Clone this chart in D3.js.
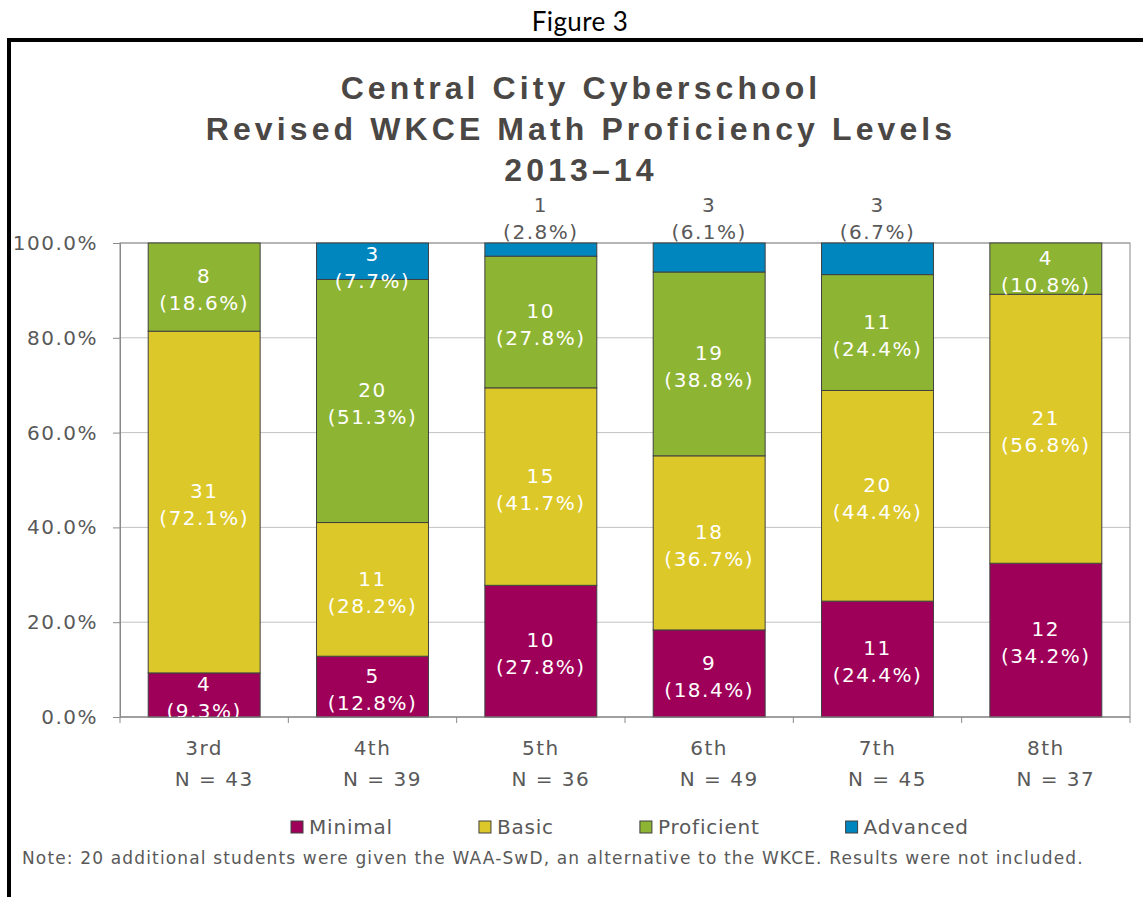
<!DOCTYPE html>
<html>
<head>
<meta charset="utf-8">
<script src="https://cdn.jsdelivr.net/npm/d3@7"></script>
<style>
  body { margin: 0; background: #fff; }
  text { font-family: "DejaVu Sans", sans-serif; }
</style>
</head>
<body>
<div id="chart"></div>
<script>
// Data
const grades = ["3rd", "4th", "5th", "6th", "7th", "8th"];
const nStudents = [43, 39, 36, 49, 45, 37];
const levels = ["Minimal", "Basic", "Proficient", "Advanced"];
const colors = ["#9e0059", "#dcc828", "#8db432", "#0086bf"];

const minimalN = [4, 5, 10, 9, 11, 12];
const basicN = [31, 11, 15, 18, 20, 21];
const proficientN = [8, 20, 10, 19, 11, 4];
const advancedN = [0, 3, 1, 3, 3, 0];

// percentages as printed on the labels
const minimalPct = [9.3, 12.8, 27.8, 18.4, 24.4, 34.2];
const basicPct = [72.1, 28.2, 41.7, 36.7, 44.4, 56.8];
const proficientPct = [18.6, 51.3, 27.8, 38.8, 24.4, 10.8];
const advancedPct = [0, 7.7, 2.8, 6.1, 6.7, 0];

const yTicks = [0, 20, 40, 60, 80, 100];
const titleLines = ["Central City Cyberschool", "Revised WKCE Math Proficiency Levels", "2013\u201314"];
const noteText = "Note: 20 additional students were given the WAA-SwD, an alternative to the WKCE. Results were not included.";

const W = 1143, H = 897;
const plot = { left: 120, right: 1130, top: 243, bottom: 717 };
const textGray = "#595959";

const svg = d3.select("#chart").append("svg")
    .attr("width", W)
    .attr("height", H);

svg.append("rect").attr("width", W).attr("height", H).attr("fill", "#fff");

// outer frame (top and left rules)
svg.append("rect").attr("x", 7).attr("y", 38).attr("width", W - 7).attr("height", 4).attr("fill", "#000");
svg.append("rect").attr("x", 7).attr("y", 38).attr("width", 4).attr("height", H - 38).attr("fill", "#000");

svg.append("text")
    .attr("x", 580).attr("y", 31)
    .attr("text-anchor", "middle")
    .style("font-family", "Lato, 'Open Sans', sans-serif")
    .style("font-size", "26px")
    .style("letter-spacing", "0.4px")
    .attr("fill", "#000")
    .text("Figure 3");

// chart title
svg.append("g").selectAll("text")
    .data(titleLines)
    .enter().append("text")
    .attr("x", 581)
    .attr("y", (d, i) => 99 + i * 41)
    .attr("text-anchor", "middle")
    .style("font-family", "'Liberation Sans', Arial, sans-serif")
    .style("font-weight", "bold")
    .style("font-size", "32px")
    .style("letter-spacing", "4.1px")
    .attr("fill", "#4a4745")
    .text(d => d);

// scales
const x = d3.scaleBand()
    .domain(grades)
    .range([plot.left, plot.right])
    .paddingInner(0.335)
    .paddingOuter(0.1675);

const y = d3.scaleLinear()
    .domain([0, 100])
    .range([plot.bottom, plot.top]);

// gridlines
svg.append("g").selectAll("line")
    .data(yTicks)
    .enter().append("line")
    .attr("x1", plot.left).attr("x2", plot.right)
    .attr("y1", d => y(d)).attr("y2", d => y(d))
    .attr("stroke", "#c3c3c3")
    .attr("stroke-width", 1);

// plot border
svg.append("rect")
    .attr("x", plot.left).attr("y", plot.top)
    .attr("width", plot.right - plot.left).attr("height", plot.bottom - plot.top)
    .attr("fill", "none")
    .attr("stroke", "#8a8a8a")
    .attr("stroke-width", 1);

// y axis
const yAxis = svg.append("g")
    .attr("transform", `translate(${plot.left},0)`)
    .call(d3.axisLeft(y).tickValues(yTicks).tickFormat(d => d.toFixed(1) + "%").tickSize(7).tickPadding(15));
yAxis.select(".domain").attr("stroke", "#8a8a8a");
yAxis.selectAll(".tick line").attr("stroke", "#8a8a8a");
yAxis.selectAll(".tick text")
    .attr("fill", textGray)
    .style("font-size", "20px")
    .style("letter-spacing", "1.5px")
    .style("font-family", "'DejaVu Sans', sans-serif");

// stacked data
const counts = [minimalN, basicN, proficientN, advancedN];
const pcts = [minimalPct, basicPct, proficientPct, advancedPct];
const rows = grades.map((g, i) => {
    const r = { grade: g };
    levels.forEach((l, k) => { r[l] = counts[k][i] / nStudents[i] * 100; });
    return r;
});
const series = d3.stack().keys(levels)(rows);

svg.append("clipPath").attr("id", "plotclip")
    .append("rect")
    .attr("x", plot.left).attr("y", plot.top)
    .attr("width", plot.right - plot.left).attr("height", plot.bottom - plot.top);

const barG = svg.append("g");
series.forEach((s, k) => {
    barG.selectAll(".seg" + k)
        .data(s.filter(d => d[1] - d[0] > 0))
        .enter().append("rect")
        .attr("x", d => x(d.data.grade))
        .attr("width", x.bandwidth())
        .attr("y", d => y(d[1]))
        .attr("height", d => y(d[0]) - y(d[1]))
        .attr("fill", colors[k])
        .attr("stroke", "#404040")
        .attr("stroke-width", 1);
});

// bottom axis line and ticks at band edges
svg.append("line")
    .attr("x1", plot.left).attr("x2", plot.right)
    .attr("y1", plot.bottom).attr("y2", plot.bottom)
    .attr("stroke", "#8a8a8a");
const step = x.step();
svg.append("g").selectAll("line")
    .data(d3.range(grades.length + 1))
    .enter().append("line")
    .attr("x1", i => plot.left + i * step).attr("x2", i => plot.left + i * step)
    .attr("y1", plot.bottom).attr("y2", plot.bottom + 6)
    .attr("stroke", "#8a8a8a");

// category labels
const catG = svg.append("g")
    .style("font-size", "20px")
    .style("letter-spacing", "1.5px")
    .attr("fill", textGray)
    .attr("text-anchor", "middle");
grades.forEach((g, i) => {
    const cx = x(g) + x.bandwidth() / 2;
    catG.append("text").attr("x", cx).attr("y", 755).text(g);
    catG.append("text").attr("x", cx + 10).attr("y", 786).text("N = " + nStudents[i]);
});

// data labels
const inG = svg.append("g").attr("clip-path", "url(#plotclip)");
const outG = svg.append("g");
series.forEach((s, k) => {
    s.forEach((d, i) => {
        const n = counts[k][i];
        if (!n) return;
        const lines = [String(n), "(" + pcts[k][i].toFixed(1) + "%)"];
        const cx = x(d.data.grade) + x.bandwidth() / 2;
        const top = y(d[1]), bot = y(d[0]);
        let c, g, fill;
        if (k === 3 && pcts[k][i] < 7) {
            c = top - 25;
            g = outG;
            fill = textGray;
        } else {
            c = Math.max((top + bot) / 2 + 2, top + 24);
            g = inG;
            fill = "#fff";
        }
        lines.forEach((t, j) => {
            g.append("text")
                .attr("x", cx)
                .attr("y", c + (j === 0 ? -13 : 14))
                .attr("dy", "0.36em")
                .attr("text-anchor", "middle")
                .style("font-size", "20px")
                .style("letter-spacing", "1.5px")
                .attr("fill", fill)
                .text(t);
        });
    });
});

// legend
const legG = svg.append("g");
let lx = 291;
levels.forEach((l, k) => {
    legG.append("rect")
        .attr("x", lx).attr("y", 821)
        .attr("width", 12).attr("height", 12)
        .attr("fill", colors[k])
        .attr("stroke", "#404040");
    const t = legG.append("text")
        .attr("x", lx + 18).attr("y", 834)
        .style("font-size", "20px")
        .style("letter-spacing", "0.8px")
        .attr("fill", textGray)
        .text(l);
    lx += 18 + t.node().getComputedTextLength() + 86;
});

// note
svg.append("text")
    .attr("x", 22).attr("y", 864)
    .style("font-size", "17px")
    .style("letter-spacing", "1.15px")
    .attr("fill", textGray)
    .text(noteText);
</script>
</body>
</html>
